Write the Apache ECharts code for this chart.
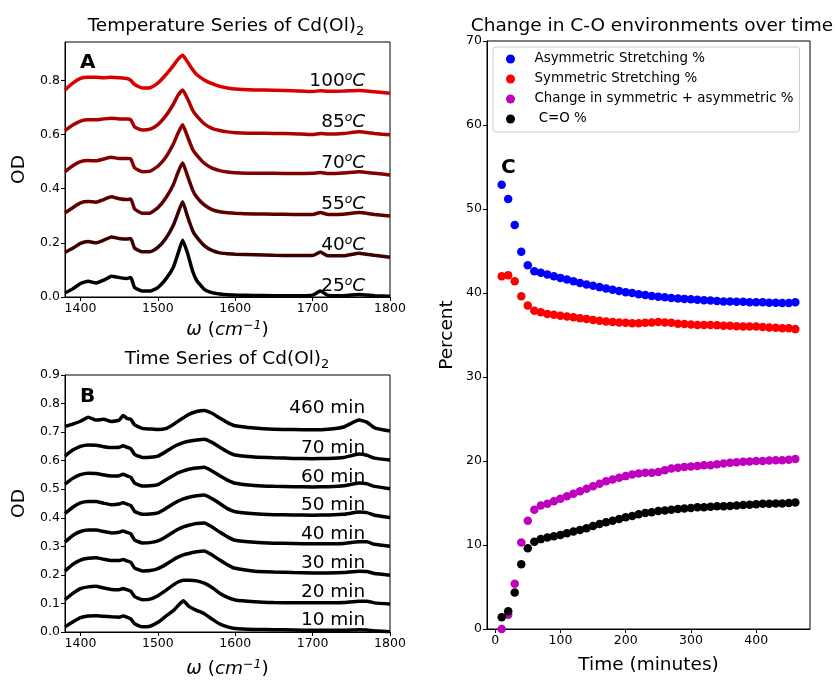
<!DOCTYPE html>
<html>
<head>
<meta charset="utf-8">
<script src="https://cdn.jsdelivr.net/npm/echarts@6.0.0/dist/echarts.min.js"></script>
<style>
  html, body { margin: 0; background: #fff; }
  #chart { width: 835px; height: 680px; }
</style>
</head>
<body>
<div id="chart"></div>
<script>
const FONT = 'DejaVu Sans'

// ---- panel A: temperature series ----
const wnA = [1380, 1390, 1400, 1410, 1420, 1430, 1440, 1450, 1460, 1465, 1470, 1480, 1490, 1500, 1510, 1520, 1526, 1532, 1538, 1545, 1550, 1560, 1570, 1580, 1590, 1600, 1625, 1650, 1675, 1700, 1710, 1720, 1740, 1760, 1780, 1800]
const od25C = [0.015, 0.03, 0.05, 0.058, 0.052, 0.062, 0.077, 0.072, 0.068, 0.072, 0.035, 0.022, 0.022, 0.035, 0.065, 0.11, 0.16, 0.21, 0.165, 0.095, 0.062, 0.028, 0.016, 0.011, 0.008, 0.007, 0.006, 0.005, 0.005, 0.007, 0.022, 0.006, 0.005, 0.009, 0.005, 0.003]
const od40C = [0.165, 0.18, 0.198, 0.205, 0.2, 0.21, 0.222, 0.216, 0.214, 0.216, 0.18, 0.167, 0.167, 0.183, 0.215, 0.265, 0.31, 0.352, 0.3, 0.245, 0.222, 0.19, 0.172, 0.163, 0.16, 0.158, 0.156, 0.154, 0.153, 0.153, 0.166, 0.152, 0.152, 0.162, 0.154, 0.147]
const od55C = [0.311, 0.33, 0.348, 0.353, 0.35, 0.36, 0.37, 0.363, 0.36, 0.362, 0.325, 0.309, 0.31, 0.33, 0.365, 0.415, 0.46, 0.496, 0.45, 0.395, 0.37, 0.34, 0.323, 0.315, 0.311, 0.309, 0.307, 0.306, 0.305, 0.305, 0.312, 0.305, 0.306, 0.312, 0.305, 0.299]
const od70C = [0.463, 0.485, 0.5, 0.504, 0.503, 0.51, 0.516, 0.512, 0.512, 0.51, 0.477, 0.463, 0.465, 0.483, 0.515, 0.565, 0.605, 0.636, 0.595, 0.545, 0.525, 0.494, 0.476, 0.467, 0.462, 0.459, 0.457, 0.457, 0.456, 0.457, 0.46, 0.456, 0.458, 0.463, 0.457, 0.451]
const od85C = [0.615, 0.635, 0.65, 0.655, 0.655, 0.658, 0.66, 0.658, 0.658, 0.655, 0.628, 0.617, 0.62, 0.637, 0.668, 0.712, 0.745, 0.765, 0.735, 0.69, 0.67, 0.64, 0.623, 0.615, 0.61, 0.607, 0.605, 0.604, 0.603, 0.6, 0.604, 0.602, 0.604, 0.61, 0.604, 0.599]
const od100C = [0.765, 0.79, 0.808, 0.812, 0.812, 0.81, 0.812, 0.81, 0.807, 0.8, 0.785, 0.772, 0.773, 0.79, 0.82, 0.855, 0.878, 0.893, 0.87, 0.84, 0.822, 0.802, 0.788, 0.778, 0.772, 0.768, 0.765, 0.764, 0.762, 0.759, 0.762, 0.76, 0.761, 0.763, 0.758, 0.753]
const tempLabels = ['25', '40', '55', '70', '85', '100']
const tempLabelY = [0.041, 0.193, 0.344, 0.496, 0.644, 0.796]
const tempColors = ['#000000', '#3c0000', '#5e0000', '#850000', '#ad0000', '#d80000']

// ---- panel B: time series ----
const wnB = [1380, 1390, 1400, 1410, 1420, 1430, 1440, 1450, 1455, 1460, 1465, 1470, 1480, 1490, 1500, 1510, 1520, 1526, 1533, 1540, 1550, 1560, 1570, 1580, 1590, 1600, 1625, 1650, 1675, 1700, 1720, 1740, 1760, 1770, 1780, 1800]
const od10m = [0.018, 0.035, 0.05, 0.056, 0.057, 0.055, 0.053, 0.052, 0.056, 0.052, 0.046, 0.029, 0.018, 0.02, 0.034, 0.055, 0.075, 0.092, 0.109, 0.09, 0.076, 0.064, 0.045, 0.028, 0.018, 0.012, 0.009, 0.008, 0.007, 0.006, 0.006, 0.006, 0.008, 0.007, 0.004, 0.001]
const od20m = [0.113, 0.135, 0.152, 0.158, 0.16, 0.154, 0.149, 0.148, 0.152, 0.148, 0.143, 0.124, 0.113, 0.115, 0.127, 0.145, 0.165, 0.175, 0.181, 0.181, 0.179, 0.171, 0.156, 0.136, 0.121, 0.112, 0.106, 0.103, 0.102, 0.102, 0.102, 0.103, 0.108, 0.108, 0.102, 0.098]
const od30m = [0.214, 0.237, 0.252, 0.258, 0.26, 0.255, 0.25, 0.25, 0.254, 0.249, 0.244, 0.224, 0.214, 0.215, 0.222, 0.236, 0.253, 0.262, 0.27, 0.275, 0.281, 0.284, 0.27, 0.252, 0.235, 0.223, 0.213, 0.21, 0.208, 0.207, 0.207, 0.208, 0.213, 0.212, 0.205, 0.199]
const od40m = [0.315, 0.338, 0.352, 0.357, 0.357, 0.352, 0.347, 0.349, 0.354, 0.349, 0.344, 0.322, 0.312, 0.313, 0.319, 0.333, 0.35, 0.36, 0.368, 0.374, 0.38, 0.382, 0.368, 0.35, 0.333, 0.321, 0.314, 0.311, 0.31, 0.309, 0.309, 0.31, 0.316, 0.316, 0.307, 0.3]
const od50m = [0.415, 0.437, 0.452, 0.457, 0.457, 0.451, 0.446, 0.448, 0.453, 0.448, 0.443, 0.422, 0.412, 0.413, 0.417, 0.432, 0.449, 0.458, 0.466, 0.472, 0.477, 0.48, 0.467, 0.45, 0.432, 0.421, 0.414, 0.411, 0.41, 0.409, 0.41, 0.412, 0.42, 0.418, 0.409, 0.401]
const od60m = [0.518, 0.538, 0.551, 0.556, 0.555, 0.55, 0.546, 0.547, 0.552, 0.547, 0.542, 0.521, 0.511, 0.512, 0.516, 0.532, 0.548, 0.557, 0.564, 0.57, 0.574, 0.577, 0.564, 0.547, 0.532, 0.521, 0.513, 0.51, 0.509, 0.508, 0.509, 0.512, 0.522, 0.519, 0.51, 0.502]
const od70m = [0.616, 0.637, 0.65, 0.655, 0.654, 0.649, 0.646, 0.647, 0.652, 0.647, 0.642, 0.622, 0.611, 0.612, 0.616, 0.631, 0.648, 0.656, 0.663, 0.668, 0.672, 0.675, 0.664, 0.647, 0.631, 0.62, 0.613, 0.61, 0.608, 0.607, 0.608, 0.611, 0.623, 0.619, 0.609, 0.602]
const od460m = [0.72, 0.728, 0.738, 0.752, 0.742, 0.745, 0.737, 0.742, 0.758, 0.748, 0.745, 0.725, 0.713, 0.711, 0.709, 0.712, 0.727, 0.738, 0.75, 0.762, 0.772, 0.776, 0.766, 0.749, 0.733, 0.722, 0.714, 0.71, 0.709, 0.708, 0.71, 0.718, 0.742, 0.735, 0.715, 0.704]
const timeLabels = ['10 min', '20 min', '30 min', '40 min', '50 min', '60 min', '70 min', '460 min']
const timeLabelY = [0.042, 0.14, 0.242, 0.343, 0.445, 0.543, 0.644, 0.784]

// ---- panel C: C-O environments ----
const minutes = [10, 20, 30, 40, 50, 60, 70, 80, 90, 100, 110, 120, 130, 140, 150, 160, 170, 180, 190, 200, 210, 220, 230, 240, 250, 260, 270, 280, 290, 300, 310, 320, 330, 340, 350, 360, 370, 380, 390, 400, 410, 420, 430, 440, 450, 460]
const asymPct = [52.9, 51.2, 48.1, 44.9, 43.3, 42.6, 42.4, 42.2, 42.0, 41.8, 41.6, 41.4, 41.2, 41.0, 40.85, 40.7, 40.55, 40.4, 40.25, 40.1, 40.0, 39.85, 39.75, 39.65, 39.55, 39.5, 39.4, 39.35, 39.3, 39.25, 39.2, 39.15, 39.1, 39.05, 39.0, 39.0, 38.95, 38.95, 38.9, 38.9, 38.9, 38.85, 38.85, 38.8, 38.8, 38.9]
const symPct = [42.0, 42.1, 41.4, 39.6, 38.5, 37.9, 37.7, 37.5, 37.4, 37.3, 37.2, 37.1, 37.0, 36.9, 36.8, 36.7, 36.6, 36.55, 36.5, 36.45, 36.4, 36.4, 36.45, 36.5, 36.55, 36.5, 36.45, 36.35, 36.3, 36.25, 36.2, 36.2, 36.2, 36.15, 36.1, 36.1, 36.05, 36.0, 36.0, 36.0, 35.95, 35.9, 35.85, 35.8, 35.8, 35.7]
const changePct = [0.0, 1.7, 5.4, 10.3, 12.9, 14.2, 14.7, 14.9, 15.2, 15.5, 15.8, 16.1, 16.4, 16.7, 17.0, 17.3, 17.6, 17.8, 18.0, 18.2, 18.4, 18.5, 18.6, 18.6, 18.7, 18.9, 19.1, 19.2, 19.3, 19.35, 19.4, 19.5, 19.5, 19.6, 19.7, 19.8, 19.85, 19.9, 19.95, 20.0, 20.0, 20.05, 20.1, 20.1, 20.15, 20.25]
const coPct = [1.4, 2.1, 4.35, 7.7, 9.6, 10.4, 10.7, 10.9, 11.05, 11.2, 11.4, 11.6, 11.8, 12.0, 12.25, 12.5, 12.7, 12.9, 13.1, 13.3, 13.45, 13.65, 13.8, 13.9, 14.05, 14.1, 14.2, 14.3, 14.35, 14.4, 14.5, 14.5, 14.55, 14.6, 14.6, 14.65, 14.7, 14.75, 14.8, 14.85, 14.9, 14.9, 14.95, 14.95, 15.0, 15.05]
const seriesNames = ['Asymmetric Stretching %', 'Symmetric Stretching %', 'Change in symmetric + asymmetric %', ' C=O %']

const zip = (xs, ys) => xs.map((x, i) => [x, ys[i]])

const tickStyle = { length: 4, lineStyle: { color: '#000' } }
const labelStyle = { color: '#000', fontSize: 12.5, fontFamily: FONT, margin: 5 }
const plain = (v) => String(v)

function valueAxis(gridIndex, extra) {
  return Object.assign({
    gridIndex,
    type: 'value',
    axisLine: { show: true, onZero: false, lineStyle: { color: '#000' } },
    axisTick: Object.assign({}, tickStyle),
    axisLabel: Object.assign({}, labelStyle),
    splitLine: { show: false },
  }, extra)
}

const nameStyle = { color: '#000', fontFamily: FONT, fontSize: 18.5 }
const italicName = {
  color: '#000',
  fontFamily: FONT,
  fontSize: 18.5,
  rich: {
    i: { fontStyle: 'italic', fontSize: 18.5, fontFamily: FONT, lineHeight: 22 },
    p: { fontSize: 18.5, fontFamily: FONT, lineHeight: 22 },
    sup: { fontStyle: 'italic', fontSize: 12.5, fontFamily: FONT, verticalAlign: 'top', lineHeight: 13 },
  },
}
const wnName = '{i|ω }{p|(}{i|cm}{sup|−1}{p|)}'
const wnTicks = [1400, 1500, 1600, 1700, 1800]
const minTicks = [0, 100, 200, 300, 400]

const xAxes = [
  valueAxis(0, {
    min: 1380, max: 1800,
    axisTick: Object.assign({ customValues: wnTicks }, tickStyle),
    axisLabel: Object.assign({ customValues: wnTicks, formatter: plain }, labelStyle),
    name: wnName, nameLocation: 'middle', nameGap: 22, nameTextStyle: italicName,
  }),
  valueAxis(1, {
    min: 1380, max: 1800,
    axisTick: Object.assign({ customValues: wnTicks }, tickStyle),
    axisLabel: Object.assign({ customValues: wnTicks, formatter: plain }, labelStyle),
    name: wnName, nameLocation: 'middle', nameGap: 26, nameTextStyle: italicName,
  }),
  valueAxis(2, {
    min: -12.5, max: 482.5,
    axisTick: Object.assign({ customValues: minTicks }, tickStyle),
    axisLabel: Object.assign({ customValues: minTicks, formatter: plain }, labelStyle),
    name: 'Time (minutes)', nameLocation: 'middle', nameGap: 27, nameTextStyle: nameStyle,
  }),
]

const odTicksA = [0, 0.2, 0.4, 0.6, 0.8]
const odTicksB = [0, 0.1, 0.2, 0.3, 0.4, 0.5, 0.6, 0.7, 0.8, 0.9]
const fmt1 = (v) => v.toFixed(1)

const yAxes = [
  valueAxis(0, {
    min: 0, max: 0.942,
    axisTick: Object.assign({ customValues: odTicksA }, tickStyle),
    axisLabel: Object.assign({ customValues: odTicksA, formatter: fmt1 }, labelStyle),
    name: 'OD', nameLocation: 'middle', nameGap: 36, nameTextStyle: nameStyle,
  }),
  valueAxis(1, {
    min: 0, max: 0.9,
    axisTick: Object.assign({ customValues: odTicksB }, tickStyle),
    axisLabel: Object.assign({ customValues: odTicksB, formatter: fmt1 }, labelStyle),
    name: 'OD', nameLocation: 'middle', nameGap: 36, nameTextStyle: nameStyle,
  }),
  valueAxis(2, {
    min: 0, max: 70, interval: 10,
    name: 'Percent', nameLocation: 'middle', nameGap: 30, nameTextStyle: nameStyle,
  }),
]

const tempCurves = [od25C, od40C, od55C, od70C, od85C, od100C]
const timeCurves = [od10m, od20m, od30m, od40m, od50m, od60m, od70m, od460m]

const series = []
tempCurves.forEach((ys, i) => {
  series.push({
    type: 'line', xAxisIndex: 0, yAxisIndex: 0,
    data: zip(wnA, ys), showSymbol: false, smooth: 0.15, silent: true,
    lineStyle: { width: 3.5, color: tempColors[i] },
  })
})
timeCurves.forEach((ys) => {
  series.push({
    type: 'line', xAxisIndex: 1, yAxisIndex: 1,
    data: zip(wnB, ys), showSymbol: false, smooth: 0.15, silent: true,
    lineStyle: { width: 3.5, color: '#000' },
  })
})

// curve labels, right-aligned at a fixed wavenumber
const labelRich = {
  n: { fontSize: 18.5, fontFamily: FONT, color: '#000', lineHeight: 22 },
  s: { fontSize: 12.5, fontFamily: FONT, fontStyle: 'italic', color: '#000', verticalAlign: 'top', lineHeight: 13 },
  c: { fontSize: 18.5, fontFamily: FONT, fontStyle: 'italic', color: '#000', lineHeight: 22 },
}
series.push({
  type: 'scatter', xAxisIndex: 0, yAxisIndex: 0, symbolSize: 0, silent: true, z: 5,
  itemStyle: { color: '#000' },
  data: tempLabels.map((t, i) => ({
    value: [1768, tempLabelY[i]],
    label: { show: true, position: 'left', distance: 0, opacity: 1, formatter: '{n|' + t + '}{s|o}{c|C}', rich: labelRich },
  })),
})
series.push({
  type: 'scatter', xAxisIndex: 1, yAxisIndex: 1, symbolSize: 0, silent: true, z: 5,
  itemStyle: { color: '#000' },
  data: timeLabels.map((t, i) => ({
    value: [1768, timeLabelY[i]],
    label: { show: true, position: 'left', distance: 0, opacity: 1, formatter: t, fontSize: 18.5, fontFamily: FONT, color: '#000' },
  })),
})

const pctData = [asymPct, symPct, changePct, coPct]
const pctColors = ['#0000ff', '#ff0000', '#bf00bf', '#000000']
pctData.forEach((ys, i) => {
  series.push({
    name: seriesNames[i], type: 'scatter', xAxisIndex: 2, yAxisIndex: 2,
    data: zip(minutes, ys), symbolSize: 8.5, silent: true,
    itemStyle: { color: pctColors[i], opacity: 1 },
  })
})

const titleRich = {
  t: { fontSize: 18.5, fontFamily: FONT, fill: '#000', lineHeight: 24 },
  sub: { fontSize: 13, fontFamily: FONT, fill: '#000', verticalAlign: 'bottom', lineHeight: 16 },
}
function textEl(x, y, text, style) {
  return { type: 'text', x, y, style: Object.assign({ text, fontFamily: FONT, fill: '#000' }, style) }
}

const chart = echarts.init(document.getElementById('chart'), null, { renderer: 'canvas' })
chart.setOption({
  animation: false,
  backgroundColor: '#fff',
  textStyle: { fontFamily: FONT },
  grid: [
    { left: 65, top: 42, width: 325, height: 255, show: true, borderColor: '#000', borderWidth: 1 },
    { left: 65, top: 375, width: 325, height: 257, show: true, borderColor: '#000', borderWidth: 1 },
    { left: 487, top: 41, width: 323, height: 591, show: true, borderColor: '#000', borderWidth: 1 },
  ],
  xAxis: xAxes,
  yAxis: yAxes,
  legend: {
    data: seriesNames,
    orient: 'vertical',
    left: 493, top: 47,
    icon: 'circle',
    itemWidth: 20, itemHeight: 9, itemGap: 6,
    padding: [5, 6, 6, 13],
    borderColor: '#cccccc', borderWidth: 1, borderRadius: 3,
    backgroundColor: 'rgba(255,255,255,0.8)',
    selectedMode: false,
    textStyle: { fontSize: 13.4, fontFamily: FONT, color: '#000', lineHeight: 14, padding: [0, 0, 0, 9] },
  },
  graphic: [
    textEl(226, 26, '{t|Temperature Series of Cd(Ol)}{sub|2}', { textAlign: 'center', textVerticalAlign: 'middle', rich: titleRich }),
    textEl(227, 359, '{t|Time Series of Cd(Ol)}{sub|2}', { textAlign: 'center', textVerticalAlign: 'middle', rich: titleRich }),
    textEl(652, 26, 'Change in C-O environments over time', { textAlign: 'center', textVerticalAlign: 'middle', fontSize: 18.5 }),
    textEl(80, 63, 'A', { textVerticalAlign: 'middle', fontSize: 20, fontWeight: 'bold' }),
    textEl(80, 397, 'B', { textVerticalAlign: 'middle', fontSize: 20, fontWeight: 'bold' }),
    textEl(501, 168, 'C', { textVerticalAlign: 'middle', fontSize: 20, fontWeight: 'bold' }),
  ],
  series,
})
</script>
</body>
</html>
